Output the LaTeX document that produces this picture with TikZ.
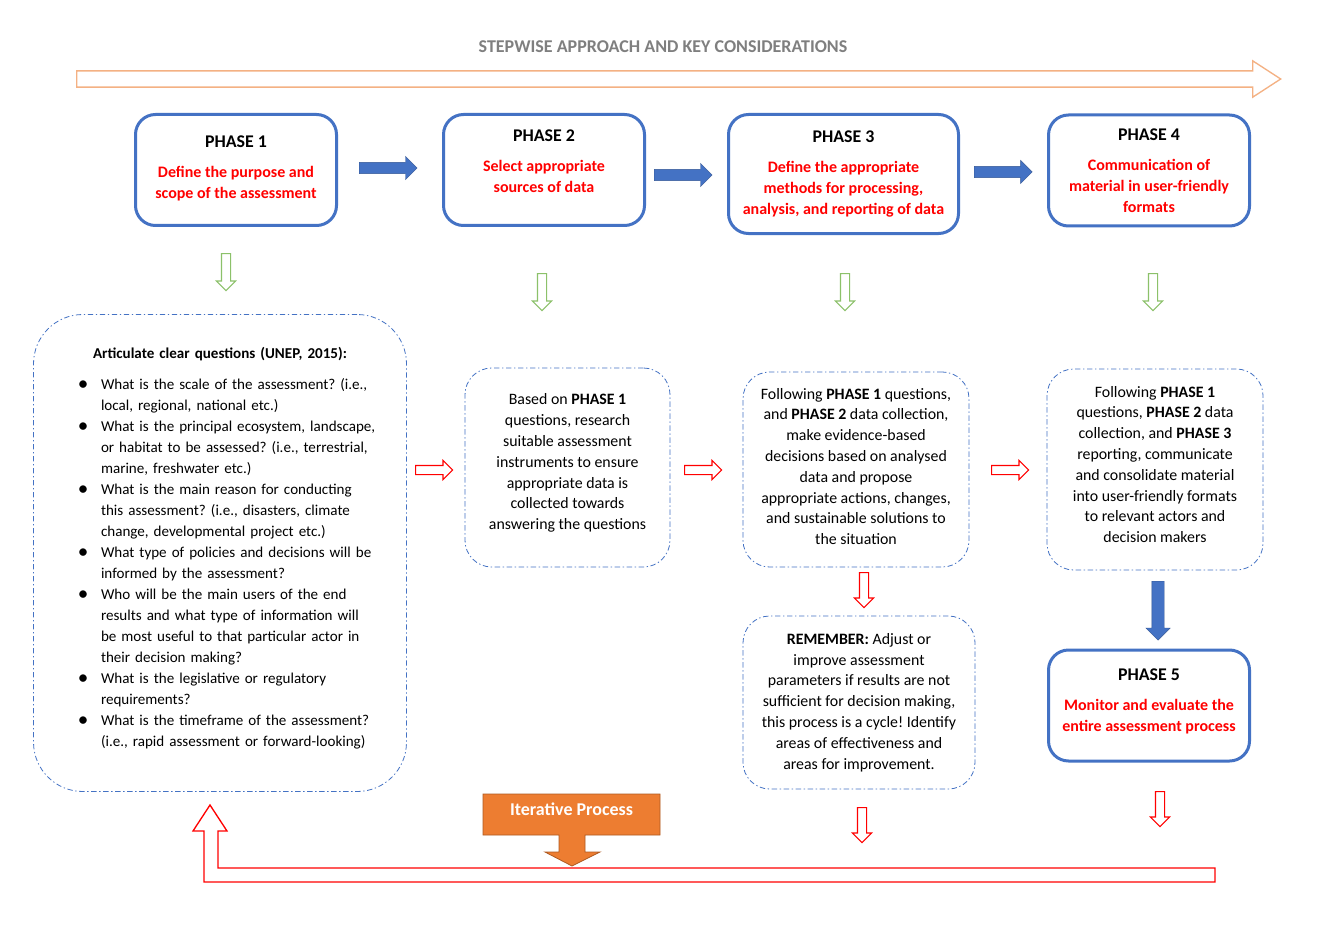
\documentclass[tikz,border=0pt]{standalone}
\usepackage{fontspec}
\setmainfont{Carlito}
\usepackage{enumitem}
\usetikzlibrary{positioning,calc,shapes.arrows}
\frenchspacing

\definecolor{phaseblue}{HTML}{4472C4}
\definecolor{phasered}{HTML}{FF0000}
\definecolor{notegreen}{HTML}{8CC16A}
\definecolor{topline}{HTML}{F4B183}
\definecolor{iterfill}{HTML}{ED7D31}
\definecolor{iterline}{HTML}{AE5A21}
\definecolor{titlegrey}{HTML}{7F7F7F}

\newcommand{\phasehead}[1]{\textcolor{black}{\fontsize{13.4}{15}\selectfont PHASE #1}}
\newcommand{\qbullet}{\raisebox{-0.6pt}{\scalebox{1.4}{\textbullet}}}
\newcommand{\liftup}[1]{\\[#1]\mbox{}}

\begin{document}
\begin{tikzpicture}[x=0.75pt,y=-0.75pt]
\tikzstyle{phase}=[draw=phaseblue,line width=2.25pt,rounded corners=15pt,align=center,text=phasered,font=\fontsize{12}{15.6}\selectfont\bfseries,minimum width=150.75pt,minimum height=83.25pt]
\tikzstyle{note}=[draw=phaseblue,line width=0.6pt,dash pattern=on 4pt off 2pt on 1pt off 2pt,rounded corners=20pt,align=center,font=\fontsize{11.9}{15.6}\selectfont,inner sep=0pt]
\tikzstyle{flow}=[single arrow,anchor=tail,fill=phaseblue,draw=phaseblue!75!black,line width=0.3pt,inner xsep=0pt,inner ysep=4.1pt,text height=0pt,text depth=0pt,single arrow head extend=4.5pt,minimum height=43.5pt]
\tikzset{hollow/.style={single arrow,anchor=tail,draw=#1,fill=white,line width=0.8pt,inner xsep=0pt,inner ysep=3pt,text height=0pt,text depth=0pt,single arrow head extend=3.75pt,minimum height=27.75pt}}

\fill[white] (0,0) rectangle (1326,934);
\useasboundingbox (0,0) rectangle (1326,934);

\node[font=\fontsize{13.5}{15}\selectfont\bfseries,text=titlegrey] (title) at (663,47) {STEPWISE APPROACH AND KEY CONSIDERATIONS};
\node[single arrow,anchor=tail,draw=topline,line width=1pt,inner xsep=0pt,inner ysep=5.6pt,text height=0pt,text depth=0pt,single arrow head extend=7.5pt,single arrow tip angle=66,minimum height=903pt] (stepline) at (76,79) {};

\node[phase] (p1) at (236,170) {\phasehead{1}\\[7pt]Define the purpose and\\scope of the assessment\liftup{-11pt}};
\node[phase] (p2) at (544,170) {\phasehead{2}\\[7pt]Select appropriate\\sources of data\liftup{-2pt}};
\node[phase,minimum width=172.5pt,minimum height=89.25pt] (p3) at (843.5,174) {\phasehead{3}\\[7pt]Define the appropriate\\methods for processing,\\analysis, and reporting of data};
\node[phase] (p4) at (1149,170.5) {\phasehead{4}\\[7pt]Communication of\\material in user-friendly\\formats};
\node[phase] (p5) at (1149,705.5) {\phasehead{5}\\[7pt]Monitor and evaluate the\\entire assessment process\liftup{-8pt}};

\node[flow] (f12) at (359,168) {};
\node[flow] (f23) at (654,175) {};
\node[flow] (f34) at (974,172) {};
\node[flow,rotate=-90,minimum height=44.25pt,inner ysep=4.5pt] (f45) at (1158,581) {};

\node[hollow=notegreen,rotate=-90] (g1) at (226,253) {};
\node[hollow=notegreen,rotate=-90] (g2) at (542,273) {};
\node[hollow=notegreen,rotate=-90] (g3) at (845,273) {};
\node[hollow=notegreen,rotate=-90] (g4) at (1153,273) {};

\node[note,rounded corners=37pt,minimum width=279.75pt,minimum height=357.75pt,text width=255pt,align=left,font=\fontsize{11.3}{15.75}\selectfont] (qbox) at (220,553) {%
{\centering\textbf{Articulate clear questions (UNEP, 2015):}\par}
\begin{itemize}[label=\qbullet,leftmargin=38.25pt,labelsep=9.5pt,itemsep=0pt,parsep=0pt,topsep=7pt,partopsep=0pt]
\item What is the scale of the assessment? (i.e.,\newline local, regional, national etc.)
\item What is the principal ecosystem, landscape,\newline or habitat to be assessed? (i.e., terrestrial,\newline marine, freshwater etc.)
\item What is the main reason for conducting\newline this assessment? (i.e., disasters, climate\newline change, developmental project etc.)
\item What type of policies and decisions will be\newline informed by the assessment?
\item Who will be the main users of the end\newline results and what type of information will\newline be most useful to that particular actor in\newline their decision making?
\item What is the legislative or regulatory\newline requirements?
\item What is the timeframe of the assessment?\newline (i.e., rapid assessment or forward-looking)
\end{itemize}\vspace{6pt}};
\node[note,minimum width=153.75pt,minimum height=149.25pt] (n2) at (567.5,467.5) {Based on \textbf{PHASE 1}\\questions, research\\suitable assessment\\instruments to ensure\\appropriate data is\\collected towards\\answering the questions\liftup{-7pt}};
\node[note,minimum width=169.5pt,minimum height=146.25pt] (n3) at (856,469.5) {Following \textbf{PHASE 1} questions,\\and \textbf{PHASE 2} data collection,\\make evidence-based\\decisions based on analysed\\data and propose\\appropriate actions, changes,\\and sustainable solutions to\\the situation\liftup{-11pt}};
\node[note,minimum width=162pt,minimum height=150.75pt] (n4) at (1155,469.5) {Following \textbf{PHASE 1}\\questions, \textbf{PHASE 2} data\\collection, and \textbf{PHASE 3}\\reporting, communicate\\and consolidate material\\into user-friendly formats\\to relevant actors and\\decision makers\liftup{-8pt}};
\node[note,minimum width=174pt,minimum height=129.75pt] (rem) at (859,702.5) {\textbf{REMEMBER:} Adjust or\\improve assessment\\parameters if results are not\\sufficient for decision making,\\this process is a cycle! Identify\\areas of effectiveness and\\areas for improvement.};

\node[hollow=phasered] (r12) at (415,470) {};
\node[hollow=phasered] (r23) at (684,470) {};
\node[hollow=phasered] (r34) at (991,470) {};
\node[hollow=phasered,rotate=-90,minimum height=26.25pt] (r3) at (864,572) {};
\node[hollow=phasered,rotate=-90,minimum height=26.25pt] (rrem) at (862,807) {};
\node[hollow=phasered,rotate=-90,minimum height=26.25pt] (r5) at (1160,791) {};

\filldraw[fill=iterfill,draw=iterline,line width=0.6pt] (483,794) -- (660,794) -- (660,835) -- (585,835) -- (585,852) -- (600,852) -- (572,866) -- (545,852) -- (559,852) -- (559,835) -- (483,835) -- cycle;
\node[text=white,font=\fontsize{13.5}{15}\selectfont\bfseries] (iter) at (571.5,809) {Iterative Process};

\draw[phasered,line width=1pt,fill=white] (1215,868) -- (218,868) -- (218,831) -- (227,831) -- (210,805) -- (193,831) -- (204,831) -- (204,882) -- (1215,882) -- cycle;
\end{tikzpicture}
\end{document}
